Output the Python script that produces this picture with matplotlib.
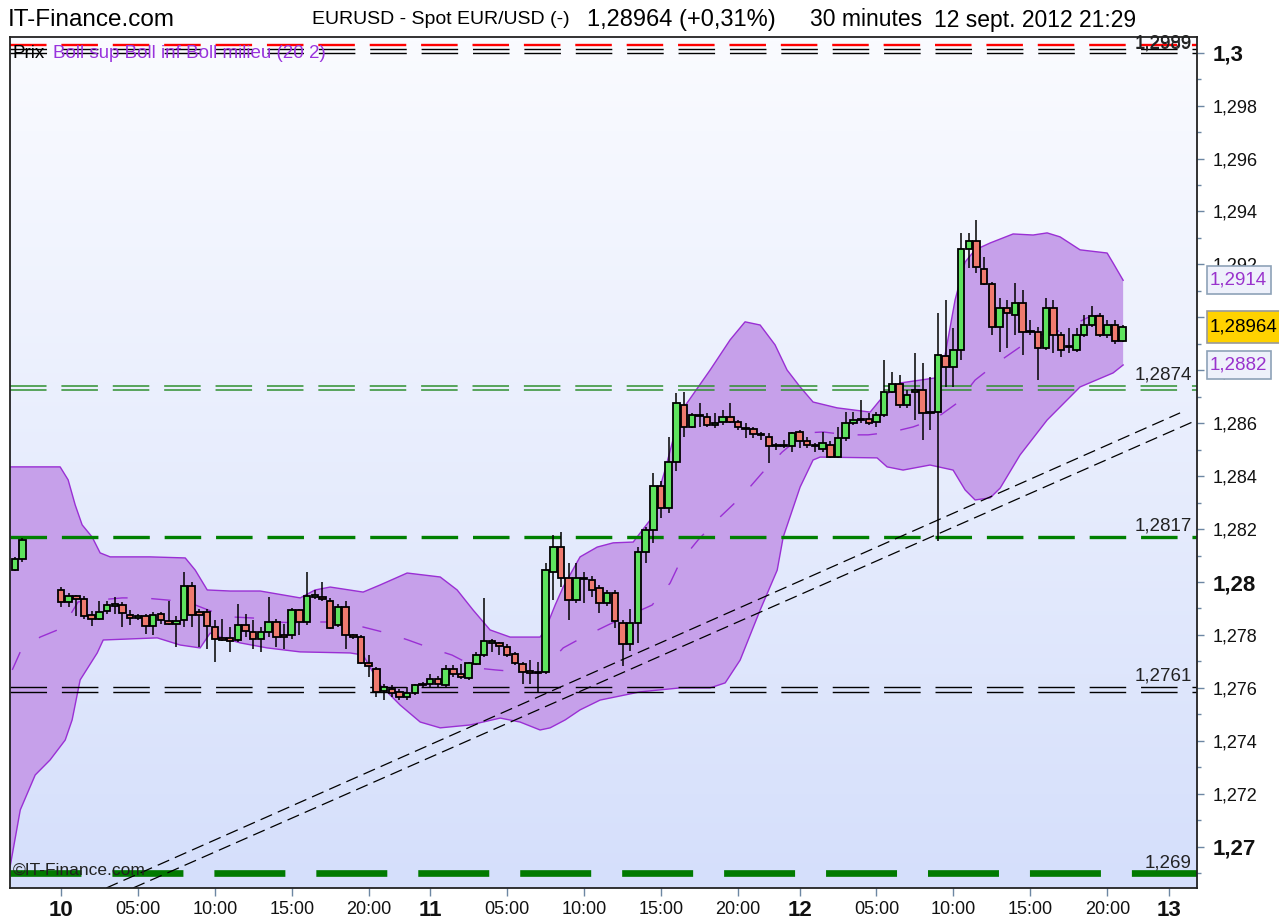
import numpy as np
import pandas as pd
import matplotlib
matplotlib.use("Agg")
import matplotlib.pyplot as plt
from matplotlib.colors import LinearSegmentedColormap
from matplotlib.patches import Rectangle
from matplotlib.ticker import FixedLocator, MultipleLocator, FuncFormatter

plt.rcParams['font.family'] = ['Liberation Sans', 'DejaVu Sans']
plt.rcParams['lines.scale_dashes'] = False

# ---------------- data ----------------
pre_times = ["2012-09-09 21:00", "2012-09-09 21:30"]
main_start = "2012-09-10 00:00"

pre_open = [1.28045, 1.28087]
pre_high = [1.28095, 1.28168]
pre_low = [1.28040, 1.28074]
pre_close = [1.28087, 1.28158]

main_open = [
    1.27970, 1.27923, 1.27949, 1.27934, 1.27877, 1.27861, 1.27890, 1.27911, 1.27914, 1.27877,
    1.27863, 1.27871, 1.27832, 1.27880, 1.27851, 1.27842, 1.27855, 1.27984, 1.27886, 1.27886,
    1.27829, 1.27789, 1.27789, 1.27782, 1.27836, 1.27810, 1.27786, 1.27810, 1.27848, 1.27798,
    1.27798, 1.27895, 1.27848, 1.27942, 1.27945, 1.27930, 1.27836, 1.27907, 1.27798, 1.27792,
    1.27694, 1.27673, 1.27589, 1.27597, 1.27585, 1.27566, 1.27579, 1.27610, 1.27616, 1.27635,
    1.27610, 1.27673, 1.27654, 1.27637, 1.27692, 1.27723, 1.27770, 1.27769, 1.27754, 1.27729,
    1.27692, 1.27664, 1.27660, 1.27659, 1.28039, 1.28133, 1.28014, 1.27933, 1.28014, 1.28008,
    1.27977, 1.27920, 1.27960, 1.27847, 1.27767, 1.27847, 1.28115, 1.28198, 1.28361, 1.28280,
    1.28455, 1.28669, 1.28585, 1.28627, 1.28625, 1.28594, 1.28606, 1.28625, 1.28606, 1.28583,
    1.28577, 1.28558, 1.28549, 1.28517, 1.28513, 1.28514, 1.28568, 1.28531, 1.28517, 1.28502,
    1.28518, 1.28472, 1.28543, 1.28602, 1.28611, 1.28615, 1.28606, 1.28631, 1.28719, 1.28748,
    1.28669, 1.28718, 1.28725, 1.28643, 1.28641, 1.28855, 1.28814, 1.28878, 1.29258, 1.29288,
    1.29183, 1.29126, 1.28964, 1.29036, 1.29010, 1.29055, 1.28946, 1.28946, 1.28885, 1.29036,
    1.28934, 1.28889, 1.28878, 1.28934, 1.28972, 1.29006, 1.28934, 1.28972, 1.28912]
main_high = [
    1.27983, 1.27957, 1.27952, 1.27949, 1.27892, 1.27930, 1.27930, 1.27945, 1.27923, 1.27895,
    1.27880, 1.27880, 1.27886, 1.27886, 1.27930, 1.27873, 1.28036, 1.27999, 1.27899, 1.27899,
    1.27855, 1.27861, 1.27829, 1.27917, 1.27880, 1.27855, 1.27829, 1.27942, 1.27861, 1.27842,
    1.27902, 1.27899, 1.28036, 1.27970, 1.27999, 1.27940, 1.27917, 1.27930, 1.27804, 1.27798,
    1.27723, 1.27679, 1.27616, 1.27610, 1.27597, 1.27604, 1.27616, 1.27622, 1.27651, 1.27644,
    1.27685, 1.27685, 1.27692, 1.27698, 1.27735, 1.27940, 1.27786, 1.27773, 1.27767, 1.27735,
    1.27698, 1.27704, 1.27698, 1.28071, 1.28177, 1.28190, 1.28071, 1.28071, 1.28039, 1.28021,
    1.27989, 1.27970, 1.27970, 1.27858, 1.27898, 1.28133, 1.28209, 1.28412, 1.28380, 1.28549,
    1.28713, 1.28719, 1.28638, 1.28675, 1.28638, 1.28638, 1.28650, 1.28675, 1.28612, 1.28600,
    1.28587, 1.28568, 1.28562, 1.28527, 1.28537, 1.28568, 1.28575, 1.28549, 1.28525, 1.28568,
    1.28531, 1.28587, 1.28644, 1.28644, 1.28688, 1.28638, 1.28644, 1.28838, 1.28793, 1.28782,
    1.28725, 1.28865, 1.28827, 1.28774, 1.29017, 1.29066, 1.28961, 1.29318, 1.29318, 1.29367,
    1.29228, 1.29134, 1.29074, 1.29066, 1.29130, 1.29104, 1.28991, 1.28964, 1.29074, 1.29066,
    1.28946, 1.28961, 1.28961, 1.29010, 1.29043, 1.29017, 1.28991, 1.28991, 1.28972]
main_low = [
    1.27907, 1.27907, 1.27873, 1.27861, 1.27832, 1.27855, 1.27880, 1.27880, 1.27829, 1.27839,
    1.27857, 1.27804, 1.27798, 1.27842, 1.27836, 1.27754, 1.27829, 1.27829, 1.27754, 1.27748,
    1.27698, 1.27779, 1.27735, 1.27773, 1.27792, 1.27748, 1.27735, 1.27792, 1.27754, 1.27748,
    1.27786, 1.27798, 1.27836, 1.27936, 1.27930, 1.27823, 1.27829, 1.27748, 1.27786, 1.27692,
    1.27641, 1.27566, 1.27553, 1.27566, 1.27553, 1.27553, 1.27572, 1.27604, 1.27604, 1.27604,
    1.27604, 1.27641, 1.27635, 1.27629, 1.27685, 1.27716, 1.27735, 1.27723, 1.27716, 1.27685,
    1.27616, 1.27616, 1.27585, 1.27651, 1.27933, 1.27983, 1.27858, 1.27920, 1.27920, 1.27945,
    1.27883, 1.27908, 1.27826, 1.27682, 1.27738, 1.27770, 1.28071, 1.28148, 1.28242, 1.28261,
    1.28418, 1.28549, 1.28581, 1.28587, 1.28587, 1.28581, 1.28594, 1.28600, 1.28575, 1.28543,
    1.28543, 1.28537, 1.28449, 1.28499, 1.28506, 1.28493, 1.28506, 1.28506, 1.28493, 1.28493,
    1.28468, 1.28468, 1.28531, 1.28594, 1.28600, 1.28594, 1.28587, 1.28625, 1.28713, 1.28658,
    1.28658, 1.28612, 1.28537, 1.28575, 1.28156, 1.28735, 1.28738, 1.28840, 1.29186, 1.29168,
    1.29122, 1.28934, 1.28870, 1.28885, 1.28934, 1.28859, 1.28934, 1.28765, 1.28878, 1.28867,
    1.28851, 1.28867, 1.28870, 1.28927, 1.28964, 1.28927, 1.28923, 1.28900, 1.28908]
main_close = [
    1.27923, 1.27949, 1.27936, 1.27873, 1.27861, 1.27886, 1.27914, 1.27917, 1.27882, 1.27863,
    1.27871, 1.27832, 1.27877, 1.27855, 1.27842, 1.27851, 1.27984, 1.27877, 1.27877, 1.27832,
    1.27786, 1.27782, 1.27779, 1.27836, 1.27814, 1.27786, 1.27810, 1.27848, 1.27792, 1.27792,
    1.27895, 1.27848, 1.27949, 1.27952, 1.27936, 1.27827, 1.27907, 1.27798, 1.27792, 1.27694,
    1.27682, 1.27585, 1.27604, 1.27579, 1.27566, 1.27579, 1.27610, 1.27616, 1.27635, 1.27613,
    1.27673, 1.27654, 1.27641, 1.27694, 1.27723, 1.27777, 1.27777, 1.27757, 1.27723, 1.27694,
    1.27660, 1.27656, 1.27656, 1.28046, 1.28133, 1.28014, 1.27933, 1.28014, 1.28011, 1.27970,
    1.27920, 1.27958, 1.27851, 1.27767, 1.27847, 1.28115, 1.28196, 1.28361, 1.28280, 1.28455,
    1.28675, 1.28587, 1.28631, 1.28631, 1.28594, 1.28602, 1.28625, 1.28606, 1.28587, 1.28580,
    1.28558, 1.28555, 1.28514, 1.28513, 1.28517, 1.28562, 1.28534, 1.28518, 1.28513, 1.28527,
    1.28472, 1.28543, 1.28600, 1.28612, 1.28615, 1.28602, 1.28631, 1.28719, 1.28748, 1.28669,
    1.28706, 1.28725, 1.28639, 1.28639, 1.28859, 1.28814, 1.28878, 1.29258, 1.29288, 1.29190,
    1.29126, 1.28964, 1.29036, 1.29017, 1.29055, 1.28946, 1.28949, 1.28885, 1.29036, 1.28934,
    1.28878, 1.28893, 1.28934, 1.28972, 1.29006, 1.28934, 1.28972, 1.28912, 1.28964]

# Bollinger bands (20, 2): hours since 10 Sept 00:00, price
boll_up_h = [-3.34, -0.05, 0.47, 0.93, 1.38, 2.03, 2.55, 3.20, 5.80, 8.08, 8.73, 9.51, 11.0, 12.95,
             15.55, 16.52, 17.50, 19.64, 20.75, 22.50, 24.65, 25.75, 26.79, 27.89, 29.19, 31.14,
             31.47, 32.12, 32.64, 33.74, 34.85, 35.89, 37.19, 38.29, 39.26, 40.24, 42.19, 43.49,
             44.46, 45.44, 46.41, 47.19, 48.04, 48.88, 50.44, 52.59, 53.24, 54.54, 56.81, 57.46,
             58.11, 58.76, 59.41, 60.39, 61.88, 63.18, 64.09, 64.93, 66.23, 67.99, 68.38, 69.03]
boll_up_p = [1.28435, 1.28435, 1.28386, 1.28291, 1.28216, 1.28170, 1.28110, 1.28095, 1.28095, 1.28091,
             1.28045, 1.27970, 1.27966, 1.27966, 1.27940, 1.27970, 1.27981, 1.27962, 1.27989, 1.28034,
             1.28019, 1.27970, 1.27894, 1.27819, 1.27792, 1.27792, 1.27819, 1.27913, 1.27981, 1.28095,
             1.28132, 1.28148, 1.28151, 1.28234, 1.28423, 1.28639, 1.28801, 1.28915, 1.28983, 1.28971,
             1.28896, 1.28801, 1.28737, 1.28680, 1.28658, 1.28642, 1.28688, 1.28752, 1.28771, 1.28858,
             1.29066, 1.29209, 1.29255, 1.29281, 1.29315, 1.29311, 1.29319, 1.29304, 1.29255, 1.29243,
             1.29205, 1.29140]
boll_lo_h = [-3.34, -2.64, -1.67, -0.70, 0.28, 0.73, 1.25, 2.36, 2.75, 6.26, 7.75, 9.05, 9.70, 10.35,
             11.65, 13.41, 15.55, 18.80, 19.64, 20.75, 22.05, 23.35, 24.65, 26.60, 28.55, 29.84,
             31.14, 31.79, 32.77, 33.74, 35.04, 37.64, 40.24, 42.19, 43.17, 44.14, 45.44, 46.55,
             46.94, 48.04, 48.88, 49.34, 53.04, 53.69, 54.73, 56.48, 57.98, 58.76, 59.41, 60.39,
             61.04, 62.33, 64.09, 65.39, 66.23, 68.38, 69.03]
boll_lo_p = [1.26912, 1.27139, 1.27271, 1.27328, 1.27403, 1.27479, 1.27630, 1.27732, 1.27781, 1.27789,
             1.27762, 1.27751, 1.27807, 1.27792, 1.27770, 1.27751, 1.27736, 1.27732, 1.27724, 1.27611,
             1.27535, 1.27471, 1.27449, 1.27460, 1.27486, 1.27471, 1.27441, 1.27449, 1.27479, 1.27517,
             1.27554, 1.27585, 1.27600, 1.27600, 1.27619, 1.27705, 1.27894, 1.28045, 1.28170, 1.28359,
             1.28461, 1.28472, 1.28469, 1.28435, 1.28423, 1.28442, 1.28423, 1.28348, 1.28310, 1.28318,
             1.28355, 1.28480, 1.28612, 1.28688, 1.28737, 1.28790, 1.28820]
boll_mid_h = [-3.16, -2.64, -1.35, 0.08, 1.12, 2.42, 3.98, 5.35, 6.91, 8.21, 9.90, 11.13, 12.50, 13.80,
              15.68, 16.72, 18.80, 19.64, 21.20, 22.56, 23.99, 25.42, 27.05, 28.22, 29.84, 31.14,
              32.64, 33.94, 35.56, 36.54, 38.42, 39.59, 40.24, 41.41, 42.84, 44.27, 45.57, 46.87,
              48.36, 49.53, 51.09, 52.46, 54.02, 55.38, 56.81, 58.24, 59.41, 60.84, 62.33, 63.63,
              65.12, 66.68, 68.05, 68.83]
boll_mid_p = [1.27668, 1.27736, 1.27792, 1.27826, 1.27925, 1.27932, 1.27940, 1.27940, 1.27932, 1.27925,
              1.27887, 1.27868, 1.27864, 1.27849, 1.27845, 1.27849, 1.27849, 1.27830, 1.27807, 1.27781,
              1.27751, 1.27724, 1.27675, 1.27668, 1.27660, 1.27656, 1.27751, 1.27792, 1.27838, 1.27864,
              1.27913, 1.27996, 1.28076, 1.28159, 1.28246, 1.28325, 1.28412, 1.28491, 1.28563, 1.28567,
              1.28556, 1.28556, 1.28567, 1.28586, 1.28616, 1.28676, 1.28763, 1.28828, 1.28888, 1.28933,
              1.28952, 1.28998, 1.29017, 1.28990]

# horizontal levels
level_red = [1.30027]
level_black_top = [1.30013, 1.29998]
level_green_pair = [1.28741, 1.28726]
level_green_mid = [1.2817]
level_black_pair = [1.27605, 1.27583]
level_green_low = [1.269]
level_labels = ["1,2999", "1,2989", "1,2874", "1,2817", "1,2761", "1,269"]
level_label_vals = [1.29998, 1.29992, 1.28741, 1.2817, 1.27605, 1.269]

# trend lines (hours, price) at their two ends
trend_up_h = [2.95, 72.73]
trend_up_p = [1.26844, 1.28639]
trend_lo_h = [4.69, 73.83]
trend_lo_p = [1.26844, 1.28612]

# axis ticks
xtick_hours = [0, 5, 10, 15, 20, 24, 29, 34, 39, 44, 48, 53, 58, 63, 68, 72]
xtick_labels = ["10", "05:00", "10:00", "15:00", "20:00", "11", "05:00", "10:00", "15:00", "20:00",
                "12", "05:00", "10:00", "15:00", "20:00", "13"]
xtick_bold = ["10", "11", "12", "13"]

right_box_labels = ["1,2914", "1,28964", "1,2882"]
right_box_vals = [1.2914, 1.28964, 1.2882]

# ---------------- layout helpers ----------------
W, H = 1279, 919
XMIN, XMAX = -3.34, 73.83
YMIN, YMAX = 1.26844, 1.30061


def fx(px):
    return px / W


def fy(py):
    return 1 - py / H


fig = plt.figure(figsize=(W / 100, H / 100), dpi=100)
fig.patch.set_facecolor('white')
ax = fig.add_axes([fx(9.5), fy(888), (1197 - 9.5) / W, (888 - 36.5) / H])
ax.set_xlim(XMIN, XMAX)
ax.set_ylim(YMIN, YMAX)

# background gradient
grad = np.linspace(0, 1, 256).reshape(-1, 1)
cmap_bg = LinearSegmentedColormap.from_list("bg", ["#d5dffb", "#fafbff"])
ax.imshow(grad, extent=[XMIN, XMAX, YMIN, YMAX], origin='lower', aspect='auto',
          cmap=cmap_bg, zorder=0, interpolation='bicubic')

# bollinger band
poly_h = list(boll_up_h) + list(boll_lo_h[::-1])
poly_p = list(boll_up_p) + list(boll_lo_p[::-1])
ax.fill(poly_h, poly_p, color='#c6a0ea', zorder=1, lw=0)
ax.plot(boll_up_h, boll_up_p, color='#9a2fd4', lw=1.0, zorder=1.5)
ax.plot(boll_lo_h, boll_lo_p, color='#9a2fd4', lw=1.0, zorder=1.5)
ax.plot(boll_mid_h, boll_mid_p, color='#9a2fd4', lw=1.0, zorder=1.5, dashes=(14, 17))

# horizontal levels
short_dash = (26.3, 10.7)
for v in level_red:
    ax.axhline(v, color='#ff0000', lw=1.7, dashes=short_dash, zorder=2)
for v in level_black_top:
    ax.axhline(v, color='black', lw=1.0, dashes=short_dash, zorder=2)
for v in level_green_pair:
    ax.axhline(v, color='#2f8f2f', lw=1.1, dashes=short_dash, zorder=2)
for v in level_green_mid:
    ax.axhline(v, color='#008000', lw=2.4, dashes=short_dash, zorder=2)
for v in level_black_pair:
    ax.axhline(v, color='black', lw=1.0, dashes=short_dash, zorder=2)
for v in level_green_low:
    ax.axhline(v, color='#007a00', lw=4.8, dashes=(51.1, 22.3), zorder=2)

# trend lines
ax.plot(trend_up_h, trend_up_p, color='black', lw=0.9, dashes=(9, 4.5), zorder=2.5)
ax.plot(trend_lo_h, trend_lo_p, color='black', lw=0.9, dashes=(9, 4.5), zorder=2.5)

# candles
t0 = pd.Timestamp(main_start)
times = pd.to_datetime(pre_times).append(pd.date_range(main_start, periods=len(main_open), freq="30min"))
hours = np.asarray((times - t0) / pd.Timedelta(hours=1), dtype=float)
o = np.array(pre_open + main_open)
h_ = np.array(pre_high + main_high)
l_ = np.array(pre_low + main_low)
c = np.array(pre_close + main_close)
cols = np.where(c >= o, '#5ee35e', '#ef7a6e')
ax.vlines(hours, l_, h_, color='black', lw=1.1, zorder=3)
ax.bar(hours, np.abs(c - o), bottom=np.minimum(o, c), width=0.42, color=cols,
       edgecolor='black', linewidth=1.3, zorder=4)

# level labels
for txt, v in zip(level_labels, level_label_vals):
    ax.text(73.5, v + 0.00008, txt, ha='right', va='bottom', fontsize=13.5, color='#222222', zorder=6)

# legend text top-left
fig.text(fx(12), fy(53), "Prix", fontsize=13.5, color='black', va='center', ha='left')
fig.text(fx(53), fy(53), "Boll sup Boll inf Boll milieu (20 2)", fontsize=13.5, color='#9933dd',
         va='center', ha='left')

# watermark
ax.text(0.003, 0.012, "\u00a9IT-Finance.com", transform=ax.transAxes, fontsize=12.5,
        color='#222222', ha='left', va='bottom', zorder=6)

# axes styling
for s in ax.spines.values():
    s.set_color('#222222')
    s.set_linewidth(1.3)
    s.set_zorder(10)

ax.yaxis.tick_right()
ax.yaxis.set_major_locator(MultipleLocator(0.002))
ax.yaxis.set_minor_locator(MultipleLocator(0.001))


def yfmt(v, pos):
    s = ("%.3f" % v).rstrip('0').rstrip('.')
    return s.replace('.', ',')


ax.yaxis.set_major_formatter(FuncFormatter(yfmt))
ax.tick_params(axis='y', which='major', direction='out', length=5, width=1, color='#6d87a3',
               pad=6, labelsize=13, labelcolor='#111111')
ax.tick_params(axis='y', which='minor', direction='out', length=3, width=1, color='#6d87a3')
fig.canvas.draw()
for lab, val in zip(ax.get_yticklabels(), ax.get_yticks()):
    if abs(round(val * 100) - val * 100) < 1e-6:
        lab.set_fontweight('bold')
        lab.set_fontsize(16)

ax.xaxis.set_major_locator(FixedLocator(xtick_hours))
ax.set_xticklabels(xtick_labels)
ax.tick_params(axis='x', which='major', direction='out', length=6, width=1, color='#6d87a3',
               pad=3, labelsize=13, labelcolor='#111111')
for lab in ax.get_xticklabels():
    if lab.get_text() in xtick_bold:
        lab.set_fontweight('bold')
        lab.set_fontsize(16)

# right-hand value boxes (drawn above the axis labels, as in the original)
box_styles = [dict(fc='#eef1fb', ec='#8ea2b8', tc='#9933cc', w=64, h=28),
              dict(fc='#ffd200', ec='#9a9a9a', tc='black', w=80, h=32),
              dict(fc='#eef1fb', ec='#8ea2b8', tc='#9933cc', w=64, h=28)]
for txt, val, st in zip(right_box_labels, right_box_vals, box_styles):
    yy = H - ax.transData.transform((0, val))[1]   # pixel row from top
    rect = Rectangle((fx(1207), fy(yy + st['h'] / 2)), st['w'] / W, st['h'] / H,
                     transform=fig.transFigure, fc=st['fc'], ec=st['ec'], lw=1.2, zorder=20)
    fig.add_artist(rect)
    fig.text(fx(1210), fy(yy), txt, fontsize=13.5, color=st['tc'], ha='left', va='center', zorder=21)

# header
fig.text(fx(8), fy(20), "IT-Finance.com", fontsize=17.5, ha='left', va='center', color='black')
fig.text(fx(312), fy(20), "EURUSD - Spot EUR/USD (-)", fontsize=14, ha='left', va='center')
fig.text(fx(587), fy(20), "1,28964 (+0,31%)", fontsize=17, ha='left', va='center')
fig.text(fx(810), fy(20), "30 minutes", fontsize=16.5, ha='left', va='center')
fig.text(fx(934), fy(20), "12 sept. 2012 21:29", fontsize=16.5, ha='left', va='center')

fig.savefig("out.png", dpi=100, facecolor='white')
